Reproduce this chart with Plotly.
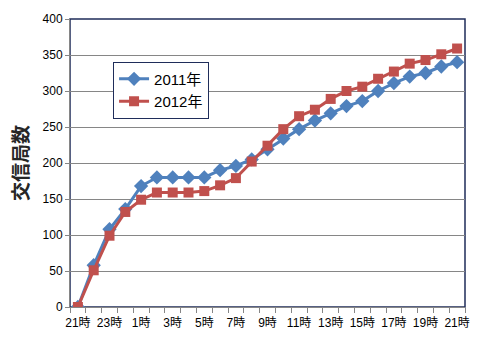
import plotly.graph_objects as go

# Hour labels from 21:00 through to 21:00 the next day
hours = ["21時", "22時", "23時", "0時", "1時", "2時", "3時", "4時", "5時", "6時",
         "7時", "8時", "9時", "10時", "11時", "12時", "13時", "14時", "15時",
         "16時", "17時", "18時", "19時", "20時", "21時"]

# Cumulative number of stations contacted
y2011 = [0, 58, 108, 136, 168, 180, 180, 180, 180, 190, 196, 205, 219, 234,
         247, 259, 269, 279, 286, 300, 311, 320, 325, 334, 340]
y2012 = [0, 51, 99, 132, 149, 159, 159, 159, 161, 169, 179, 202, 224, 247,
         265, 274, 289, 300, 306, 317, 327, 338, 343, 351, 359]

y_ticks = [0, 50, 100, 150, 200, 250, 300, 350, 400]

pos = list(range(len(hours)))
shown = [h if i % 2 == 0 else "" for i, h in enumerate(hours)]

BLUE = "#4F81BD"
RED = "#C0504D"
NAVY = "#1F2D5A"
GRID = "#868686"
FONT = "Liberation Sans, Noto Sans CJK JP, sans-serif"

fig = go.Figure()
fig.add_trace(go.Scatter(
    x=pos, y=y2011, name="2011年", mode="lines+markers",
    line=dict(color=BLUE, width=3),
    marker=dict(symbol="diamond", size=11, color=BLUE),
))
fig.add_trace(go.Scatter(
    x=pos, y=y2012, name="2012年", mode="lines+markers",
    line=dict(color=RED, width=3),
    marker=dict(symbol="square", size=10, color=RED),
))

# plot-area frame (top and right edges show in navy)
fig.add_shape(type="rect", xref="paper", yref="paper", x0=0, y0=0, x1=1, y1=1,
              line=dict(color=NAVY, width=1.5), layer="below")

fig.update_layout(
    width=481, height=348,
    margin=dict(l=70, r=16, t=19, b=41),
    paper_bgcolor="white", plot_bgcolor="white",
    font=dict(family=FONT, size=12, color="#000000"),
    showlegend=True,
    legend=dict(
        x=0.109, y=0.852, xanchor="left", yanchor="top",
        bordercolor=NAVY, borderwidth=1, bgcolor="white",
        font=dict(size=15, family=FONT),
        tracegroupgap=0,
    ),
    xaxis=dict(
        range=[-0.5, len(hours) - 0.5],
        tickmode="array", tickvals=pos, ticktext=shown,
        ticks="", showgrid=False, zeroline=False,
        showline=True, linecolor=GRID, linewidth=1,
        minor=dict(ticks="outside", tick0=-0.5, dtick=1, ticklen=5,
                   tickcolor=GRID, showgrid=False),
        tickfont=dict(size=12),
        ticklabelstandoff=5,
    ),
    yaxis=dict(
        range=[0, 400], tickmode="array", tickvals=y_ticks,
        showgrid=True, gridcolor=GRID, gridwidth=1, zeroline=False,
        showline=True, linecolor=GRID, linewidth=1,
        ticks="outside", ticklen=4, tickcolor=GRID,
        tickfont=dict(size=12),
        title=dict(text="交信局数",
                   font=dict(size=19, family="Noto Sans CJK JP", weight="bold",
                             color="#262626"),
                   standoff=8),
    ),
)

fig.write_html("out.html")
